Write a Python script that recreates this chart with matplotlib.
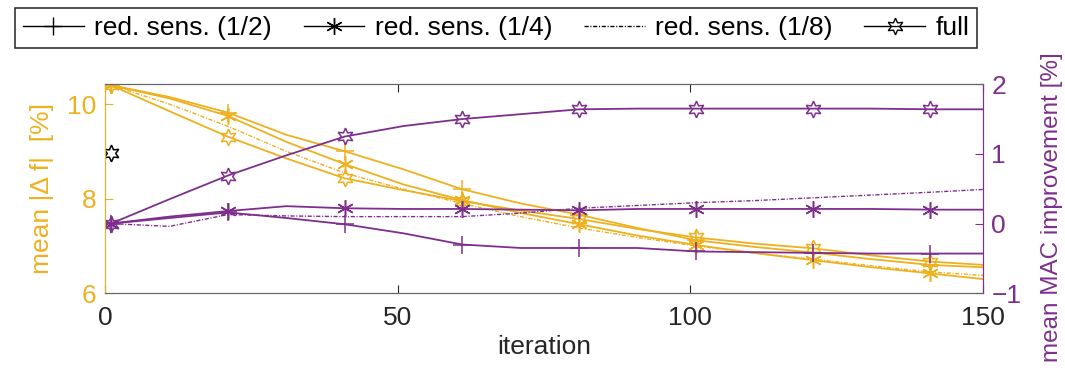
import matplotlib
matplotlib.use("Agg")
import matplotlib.pyplot as plt
from matplotlib.lines import Line2D

plt.rcParams["font.family"] = ["Liberation Sans Narrow", "Liberation Sans", "DejaVu Sans"]

iters = [1, 11, 21, 31, 41, 51, 61, 71, 81, 91, 101, 111, 121, 131, 141, 150]

# mean |delta f| [%] (left axis)
df_half = [10.4, 10.15, 9.82, 9.35, 9.0, 8.62, 8.2, 7.9, 7.66, 7.38, 7.12, 6.98, 6.86, 6.72, 6.6, 6.55]
df_quarter = [10.4, 10.12, 9.75, 9.2, 8.73, 8.3, 7.97, 7.7, 7.46, 7.22, 7.02, 6.85, 6.7, 6.55, 6.42, 6.3]
df_eighth = [10.4, 10.0, 9.53, 9.0, 8.54, 8.2, 7.9, 7.62, 7.38, 7.18, 7.0, 6.85, 6.72, 6.58, 6.45, 6.38]
df_full = [10.4, 9.85, 9.31, 8.85, 8.43, 8.18, 7.95, 7.75, 7.57, 7.36, 7.18, 7.05, 6.95, 6.8, 6.67, 6.6]

# mean MAC improvement [%] (right axis)
mac_half = [0.0, 0.08, 0.16, 0.08, -0.01, -0.14, -0.3, -0.35, -0.35, -0.35, -0.4, -0.41, -0.42, -0.43, -0.43, -0.43]
mac_quarter = [0.0, 0.1, 0.18, 0.25, 0.22, 0.21, 0.21, 0.2, 0.19, 0.21, 0.21, 0.21, 0.21, 0.21, 0.2, 0.2]
mac_eighth = [0.0, -0.04, 0.13, 0.11, 0.1, 0.1, 0.1, 0.15, 0.22, 0.26, 0.3, 0.33, 0.37, 0.41, 0.45, 0.49]
mac_full = [0.0, 0.35, 0.69, 0.98, 1.25, 1.4, 1.5, 1.57, 1.64, 1.65, 1.65, 1.65, 1.65, 1.65, 1.64, 1.64]

# reference value (black hexagram)
ref_iter = [1]
ref_df = [8.97]

labels = ["red. sens. (1/2)", "red. sens. (1/4)", "red. sens. (1/8)", "full"]

orange = "#EDB120"
purple = "#7E2F8E"
grey = "#262626"

hexagram = (6, 1, 0)
asterisk = (6, 2, 0)
marks = list(range(0, 15, 2))
dashdot = (0, (3, 1.2, 0.8, 1.2))

fig = plt.figure(figsize=(10.65, 3.76), dpi=100)
ax = fig.add_axes([0.0986, 0.22, 0.8244, 0.556])
ax2 = ax.twinx()

styles = [
    dict(marker="+", ms=13, ls="-"),
    dict(marker=asterisk, ms=12, ls="-"),
    dict(marker=None, ls=dashdot, lw=1.0),
    dict(marker=hexagram, ms=12, ls="-", mfc="none"),
]

for ys, st in zip([df_half, df_quarter, df_eighth, df_full], styles):
    kw = dict(lw=1.3)
    kw.update(st)
    ax.plot(iters, ys, color=orange, markevery=marks, mew=1.1, **kw)
for ys, st in zip([mac_half, mac_quarter, mac_eighth, mac_full], styles):
    kw = dict(lw=1.3)
    kw.update(st)
    ax2.plot(iters, ys, color=purple, markevery=marks, mew=1.1, **kw)

ax.plot(ref_iter, ref_df, ls="none", marker=hexagram, ms=12, mfc="none", mec="black", mew=1.1)

ax.set_xlim(0, 150)
ax.set_ylim(6, 10.42)
ax2.set_ylim(-1, 2)
ax.set_xticks([0, 50, 100, 150])
ax.set_yticks([6, 8, 10])
ax2.set_yticks([-1, 0, 1, 2])

fs = 19
ax.tick_params(axis="x", direction="in", top=True, colors=grey, labelsize=fs, length=6, pad=9)
ax.tick_params(axis="y", direction="in", colors=orange, labelsize=fs, length=6, pad=6)
ax2.tick_params(axis="y", direction="in", colors=purple, labelsize=fs, length=6, pad=6)

for a in (ax, ax2):
    a.spines["top"].set_color("0.4")
    a.spines["bottom"].set_color("0.4")
    a.spines["left"].set_color(orange)
    a.spines["right"].set_color(purple)

ax.set_xlabel("iteration", fontsize=fs, color=grey, labelpad=4)
ax.set_ylabel("mean |\u0394 f|  [%]", fontsize=fs, color=orange)
ax2.set_ylabel("mean MAC improvement [%]", fontsize=17.5, color=purple)
ax.yaxis.set_label_coords(-0.058, 0.5)
ax2.yaxis.set_label_coords(1.066, 0.41)

handles = [
    Line2D([], [], color="black", lw=1, marker="+", ms=13),
    Line2D([], [], color="black", lw=1, marker=asterisk, ms=12),
    Line2D([], [], color="black", lw=1, ls=dashdot),
    Line2D([], [], color="black", lw=1, marker=hexagram, ms=12, mfc="none"),
]
leg = fig.legend(handles, labels, loc="center", bbox_to_anchor=(0.466, 0.926), ncol=4,
                 fontsize=fs, frameon=True, fancybox=False, edgecolor="black",
                 handlelength=2.3, handletextpad=0.4, columnspacing=1.2, borderpad=0.3)
leg.get_frame().set_linewidth(1.2)

fig.savefig("out.png", dpi=100)
